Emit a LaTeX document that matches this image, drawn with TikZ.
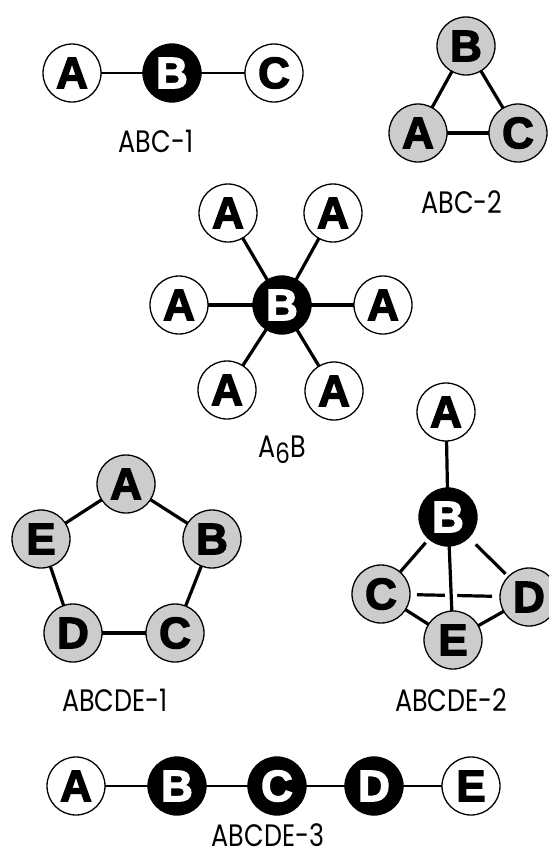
\documentclass[tikz,border=0pt]{standalone}
\usepackage{fontspec}
\newfontfamily\atomfont{Liberation Sans}[BoldFeatures={FakeBold=3}]
\newfontfamily\capfont{Poppins}[FakeStretch=0.82]
\definecolor{stipple}{gray}{0.80}
\tikzset{
  atom/.style={circle, draw=black, line width=1.3pt, minimum size=58pt,
    inner sep=0pt, outer sep=0pt,
    font=\atomfont\bfseries\fontsize{44}{44}\selectfont},
  white atom/.style={atom, fill=white, text=black},
  dark atom/.style={atom, fill=black, text=white},
  grey atom/.style={atom, fill=stipple, text=black},
  bond/.style={line width=3.2pt},
  thin bond/.style={line width=2.2pt},
  capt/.style={inner sep=0pt, anchor=base, font=\capfont\fontsize{31}{31}\selectfont}
}
\begin{document}
\begin{tikzpicture}[x=1pt, y=-1pt]
\useasboundingbox (0,0) rectangle (549,855);

% ABC-1: linear chain
\node[white atom] (p1a) at (72,73) {A};
\node[dark atom]  (p1b) at (172,73) {B};
\node[white atom] (p1c) at (274,73) {C};
\draw[thin bond] (p1a) -- (p1b);
\draw[thin bond] (p1b) -- (p1c);
\node[capt] (p1l) at (156,152) {ABC-1};

% ABC-2: triangle
\node[grey atom] (p2b) at (466,46) {B};
\node[grey atom] (p2a) at (418,133) {A};
\node[grey atom] (p2c) at (518,133) {C};
\draw[bond] (p2a) -- (p2b);
\draw[bond] (p2b) -- (p2c);
\draw[bond] (p2a) -- (p2c);
\node[capt] (p2l) at (462,213) {ABC-2};

% A6B: octahedral star
\node[dark atom]  (hb)  at (282,305) {B};
\node[white atom] (hul) at (228,213) {A};
\node[white atom] (hur) at (333,213) {A};
\node[white atom] (hl)  at (179,305) {A};
\node[white atom] (hr)  at (383,305) {A};
\node[white atom] (hll) at (227,390) {A};
\node[white atom] (hlr) at (334,391) {A};
\foreach \n in {hul,hur,hl,hr,hll,hlr}
  \draw[bond] (hb) -- (\n);
\node[capt] (hlab) at (282,457)
  {A\raisebox{-6.5pt}{\fontsize{28}{28}\selectfont 6}B};

% ABCDE-1: pentagon
\node[grey atom] (r1a) at (126,484) {A};
\node[grey atom] (r1b) at (212,539) {B};
\node[grey atom] (r1c) at (175,633) {C};
\node[grey atom] (r1d) at (73,633) {D};
\node[grey atom] (r1e) at (41,539) {E};
\draw[bond] (r1a) -- (r1b);
\draw[bond] (r1b) -- (r1c);
\draw[bond] (r1c) -- (r1d);
\draw[bond] (r1d) -- (r1e);
\draw[bond] (r1e) -- (r1a);
\node[capt] (r1l) at (115,711) {ABCDE-1};

% ABCDE-2: capped tetrahedron
\node[white atom] (t2a) at (446,412) {A};
\node[dark atom]  (t2b) at (448,517) {B};
\node[grey atom]  (t2c) at (381,594) {C};
\node[grey atom]  (t2d) at (529,597) {D};
\node[grey atom]  (t2e) at (453,640) {E};
\draw[bond] (t2a) -- (t2b);
\draw[bond, shorten <=5pt] (t2b) -- (t2c);
\draw[bond, shorten <=10pt, shorten >=4pt] (t2b) -- (t2d);
\draw[bond, shorten <=7pt, shorten >=8pt] (t2c) -- (t2d);
\draw[bond, preaction={draw=white, line width=12pt, shorten <=10pt, shorten >=10pt}]
  (t2b) -- (t2e);
\draw[bond] (t2c) -- (t2e);
\draw[bond] (t2e) -- (t2d);
\node[capt] (t2l) at (451,711) {ABCDE-2};

% ABCDE-3: linear chain
\node[white atom] (c3a) at (76,786) {A};
\node[dark atom]  (c3b) at (177,786) {B};
\node[dark atom]  (c3c) at (277,786) {C};
\node[dark atom]  (c3d) at (374,786) {D};
\node[white atom] (c3e) at (471,786) {E};
\draw[thin bond] (c3a) -- (c3b);
\draw[thin bond] (c3b) -- (c3c);
\draw[thin bond] (c3c) -- (c3d);
\draw[thin bond] (c3d) -- (c3e);
\node[capt] (c3l) at (268,846) {ABCDE-3};
\end{tikzpicture}
\end{document}
